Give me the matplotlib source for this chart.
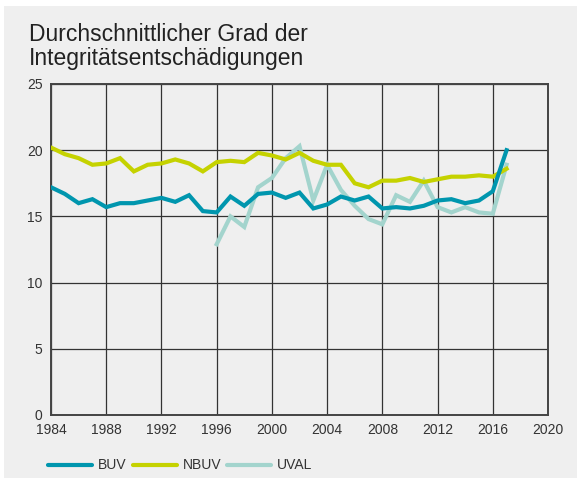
import matplotlib.pyplot as plt
from matplotlib.patches import Rectangle

years = list(range(1984, 2018))
buv = [17.2, 16.7, 16.0, 16.3, 15.7, 16.0, 16.0, 16.2, 16.4, 16.1, 16.6, 15.4, 15.3,
       16.5, 15.8, 16.7, 16.8, 16.4, 16.8, 15.6, 15.9, 16.5, 16.2, 16.5, 15.6, 15.7,
       15.6, 15.8, 16.2, 16.3, 16.0, 16.2, 16.9, 20.0]
nbuv = [20.2, 19.7, 19.4, 18.9, 19.0, 19.4, 18.4, 18.9, 19.0, 19.3, 19.0, 18.4, 19.1,
        19.2, 19.1, 19.8, 19.6, 19.3, 19.8, 19.2, 18.9, 18.9, 17.5, 17.2, 17.7, 17.7,
        17.9, 17.6, 17.8, 18.0, 18.0, 18.1, 18.0, 18.6]
uval_years = list(range(1996, 2018))
uval = [12.9, 15.0, 14.2, 17.2, 17.9, 19.4, 20.3, 16.2, 18.9, 17.0, 15.8, 14.8, 14.4,
        16.6, 16.1, 17.7, 15.7, 15.3, 15.7, 15.3, 15.2, 18.9]

W, H = 577, 479
plt.rcParams["font.family"] = ["Liberation Sans", "DejaVu Sans"]

fig = plt.figure(figsize=(W / 100, H / 100), dpi=100)
fig.patch.set_facecolor("white")
fig.add_artist(Rectangle((4 / W, 1 - 478 / H), 573 / W, 472 / H,
                         transform=fig.transFigure, facecolor="#efefef",
                         edgecolor="none", zorder=-10))

ax = fig.add_axes([51 / W, 1 - 415 / H, 497 / W, 331 / H])
ax.set_facecolor("#efefef")
ax.set_zorder(2)

ax.plot(uval_years, uval, color="#a3d4cd", linewidth=3.0, solid_joinstyle="miter", zorder=3)
ax.plot(years, nbuv, color="#c5d200", linewidth=3.0, solid_joinstyle="miter", zorder=4)
ax.plot(years, buv, color="#0096ae", linewidth=3.0, solid_joinstyle="miter", zorder=5)

ax.set_xlim(1984, 2020)
ax.set_ylim(0, 25)
ax.set_xticks(range(1984, 2021, 4))
ax.set_yticks(range(0, 26, 5))
ax.grid(True, color="#333333", linewidth=0.9)
ax.set_axisbelow(True)
for s in ax.spines.values():
    s.set_color("#444444")
    s.set_linewidth(1.4)
ax.tick_params(length=0, labelsize=10, colors="#333333", pad=6)

fig.text(29 / W, 1 - 65 / H, "Durchschnittlicher Grad der\nIntegritätsentschädigungen",
         fontsize=16.5, color="#222222", ha="left", va="baseline", linespacing=1.05,
         zorder=5)

# legend drawn by hand below the axes
y_leg = 1 - 465 / H
items = [("BUV", "#0096ae", 48), ("NBUV", "#c5d200", 133), ("UVAL", "#a3d4cd", 227)]
for label, color, x0 in items:
    fig.add_artist(plt.Line2D([x0 / W, (x0 + 44) / W], [y_leg, y_leg], color=color,
                              linewidth=3.0, solid_capstyle="round",
                              transform=fig.transFigure, zorder=5))
    fig.text((x0 + 50) / W, y_leg, label, fontsize=10, color="#333333",
             ha="left", va="center", zorder=5)

fig.savefig("out.png", dpi=100)
